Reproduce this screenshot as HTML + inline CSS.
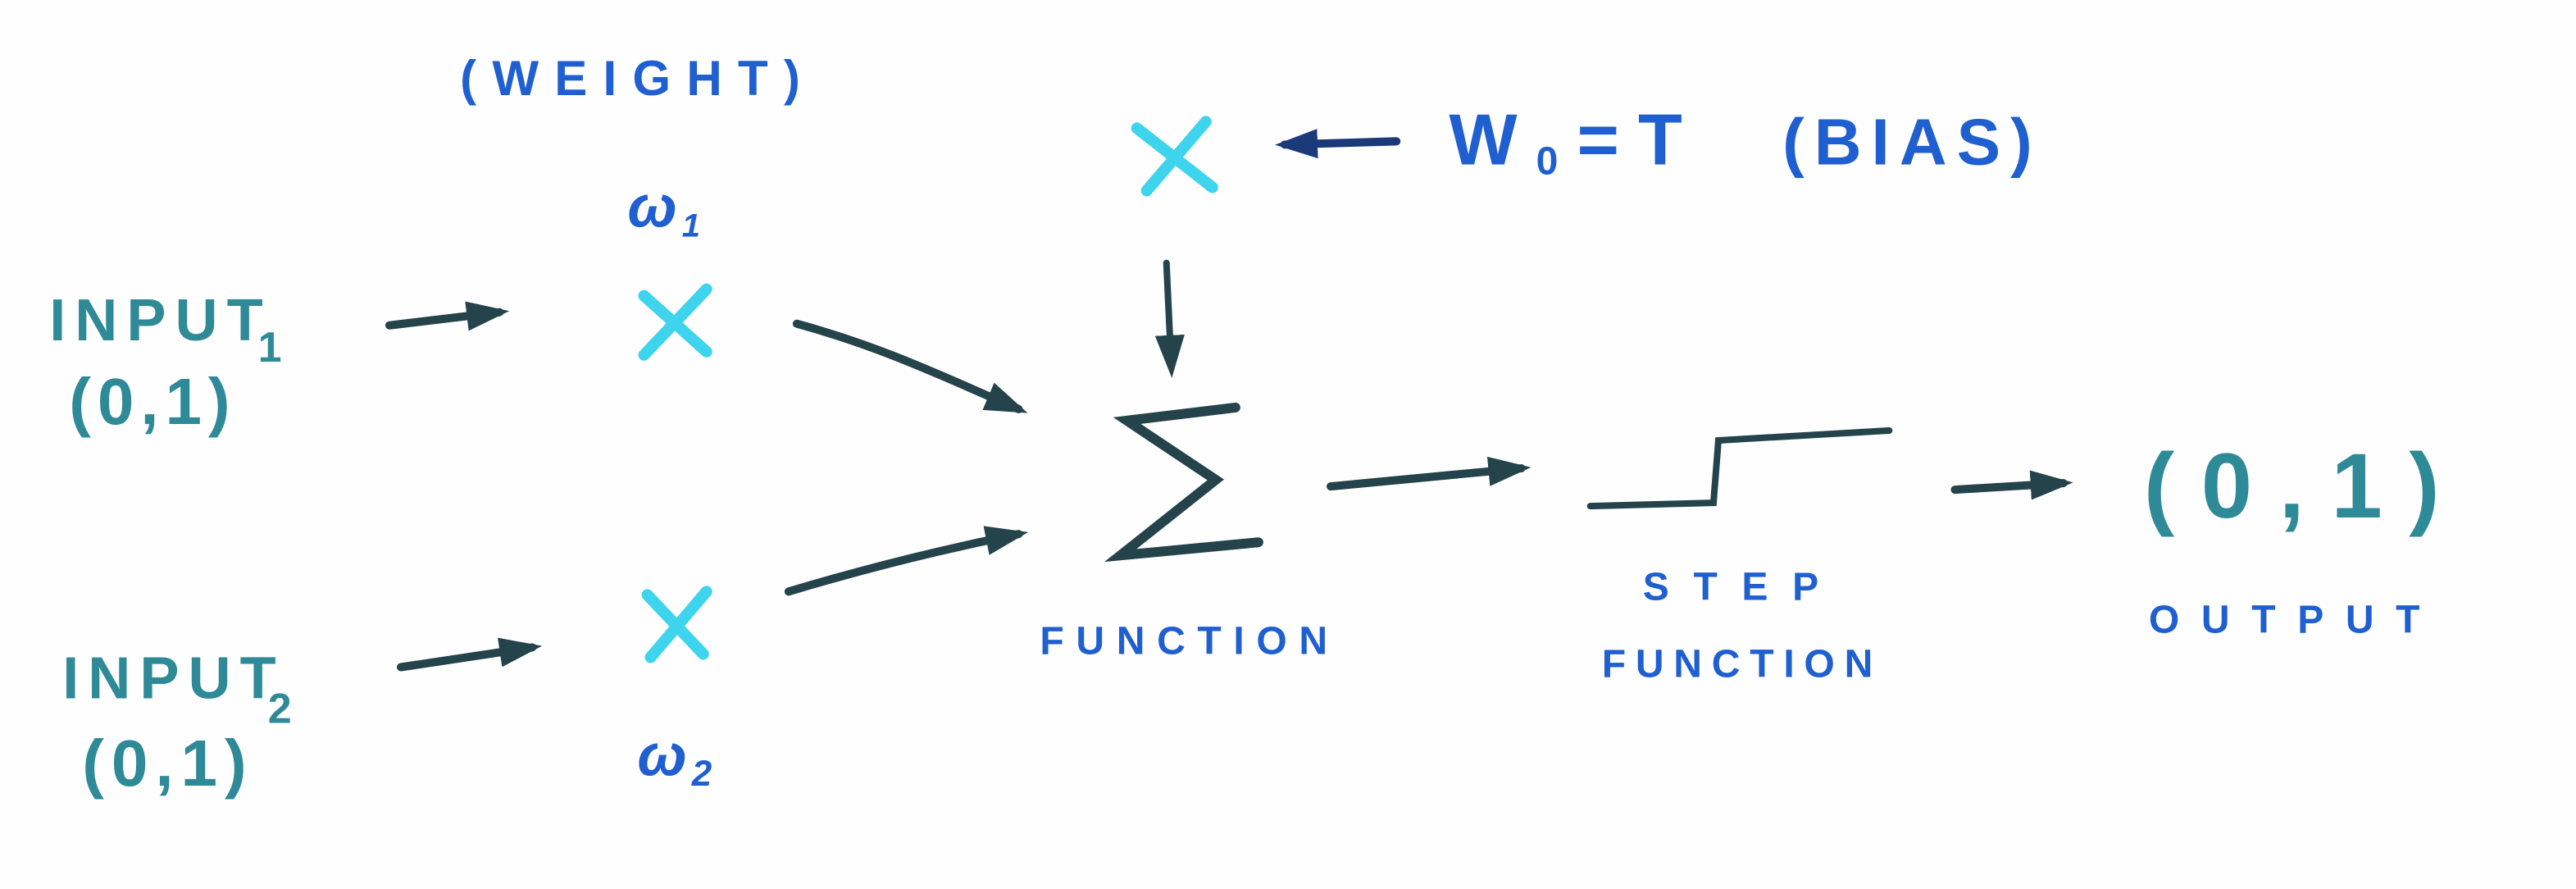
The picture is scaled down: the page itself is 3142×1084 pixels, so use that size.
<!DOCTYPE html>
<html><head><meta charset="utf-8"><style>
html,body{margin:0;padding:0;background:#fefefe;width:3142px;height:1084px;overflow:hidden}
svg{display:block}
text{font-family:"Liberation Sans",sans-serif;font-weight:bold}
</style></head><body>
<svg width="3142" height="1084" viewBox="0 0 1568 541" xmlns="http://www.w3.org/2000/svg">
<defs>
<marker id="ah" markerWidth="26" markerHeight="22" refX="20" refY="11" orient="auto" markerUnits="userSpaceOnUse" viewBox="0 0 26 22">
<path d="M0,2 L26,11 L0,20 Z" fill="#24434a"/></marker>
<marker id="ahb" markerWidth="26" markerHeight="22" refX="20" refY="11" orient="auto" markerUnits="userSpaceOnUse" viewBox="0 0 26 22">
<path d="M0,2 L26,11 L0,20 Z" fill="#1a3a7a"/></marker>
</defs>
<rect width="1568" height="541" fill="#fefefe"/>
<g fill="#1f5fd0" letter-spacing="3">
<text x="280" y="58" font-size="30" font-weight="normal" textLength="210">(WEIGHT)</text>
<text x="382" y="138" font-size="36" font-style="italic">ω<tspan font-size="20" dy="6">1</tspan></text>
<text x="388" y="472" font-size="36" font-style="italic">ω<tspan font-size="22" dy="6">2</tspan></text>
<text x="882" y="100" font-size="44" font-weight="normal" textLength="145">W<tspan font-size="24" dy="6">0</tspan><tspan dy="-6">=T</tspan></text>
<text x="1085" y="100" font-size="40" font-weight="normal" textLength="155">(BIAS)</text>
<text x="633" y="398" font-size="24" textLength="178">FUNCTION</text>
<text x="1000" y="365" font-size="24" textLength="110">STEP</text>
<text x="975" y="412" font-size="24" textLength="168">FUNCTION</text>
<text x="1308" y="385" font-size="24" textLength="168">OUTPUT</text>
</g>
<g fill="#2f8a98">
<text x="30" y="207" font-size="36" font-weight="normal" textLength="130">INPUT</text>
<text x="157" y="220" font-size="26">1</text>
<text x="42" y="258" font-size="40" font-weight="normal" textLength="98">(0,1)</text>
<text x="38" y="425" font-size="36" font-weight="normal" textLength="130">INPUT</text>
<text x="163" y="440" font-size="26">2</text>
<text x="50" y="478" font-size="40" font-weight="normal" textLength="100">(0,1)</text>
<text x="1305" y="315" font-size="56" font-weight="normal" textLength="180">(0,1)</text>
</g>
<g stroke="#3fd4ee" stroke-width="7" stroke-linecap="round" fill="none">
<path d="M392,180 L430,214 M430,176 L392,216"/>
<path d="M394,362 L428,398 M430,360 L396,400"/>
<path d="M692,78 L738,114 M734,74 L698,116"/>
</g>
<g stroke="#24434a" stroke-width="5" stroke-linecap="round" fill="none">
<path d="M237,198 L304,190" marker-end="url(#ah)"/>
<path d="M244,406 L324,394" marker-end="url(#ah)"/>
<path d="M485,197 C540,212 580,232 620,249" marker-end="url(#ah)"/>
<path d="M480,360 C530,345 580,333 620,325" marker-end="url(#ah)"/>
<path d="M710,160 L713,224" stroke-width="4" marker-end="url(#ah)"/>
<path d="M810,296 L926,285" marker-end="url(#ah)"/>
<path d="M1190,298 L1256,294" marker-end="url(#ah)"/>
<path d="M968,308 L1043,306 L1046,268 L1150,262" stroke-width="4"/>
<path d="M752,248 L686,256 L740,292 L682,338 L766,330" stroke-width="6"/>
</g>
<path d="M850,86 L782,88" stroke="#1a3a7a" stroke-width="5" stroke-linecap="round" marker-end="url(#ahb)" fill="none"/>
</svg>
</body></html>
